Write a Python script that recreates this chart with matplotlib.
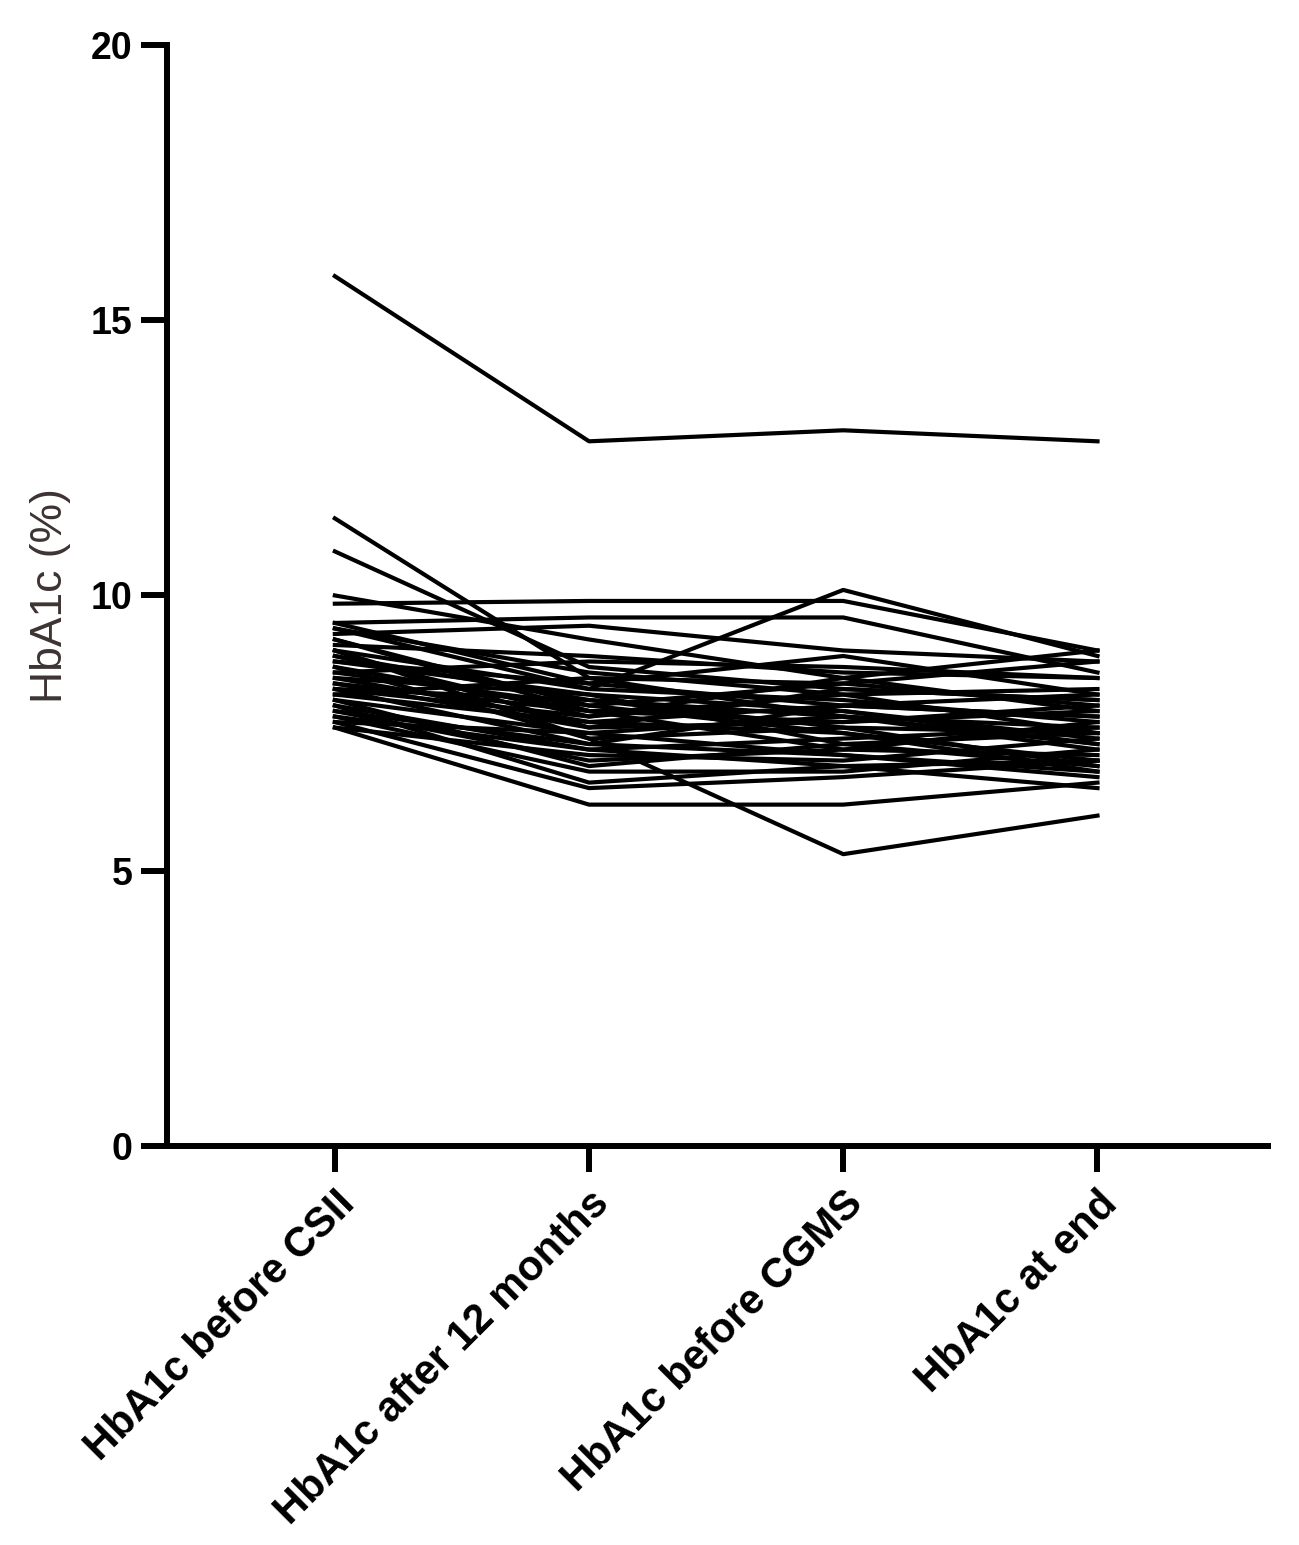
import matplotlib
matplotlib.use("Agg")
import matplotlib.pyplot as plt

plt.rcParams['font.family'] = ['Liberation Sans', 'DejaVu Sans']

# timepoints (x categories)
categories = ["HbA1c before CSII", "HbA1c after 12 months",
              "HbA1c before CGMS", "HbA1c at end"]

# one value per patient at each timepoint
before_csii = [15.8, 11.4, 10.8, 10.0, 9.85, 9.5, 9.4, 9.3, 9.2, 9.1,
               9.0, 9.0, 8.9, 8.8, 8.7, 8.6, 8.5, 8.5, 8.4, 8.3,
               8.3, 8.2, 8.1, 8.0, 8.0, 7.9, 7.8, 7.7, 7.6, 7.6,
               9.4, 9.2, 9.0, 8.8, 8.7, 8.6, 8.4, 8.2, 8.1, 7.9,
               7.7, 9.5, 8.9, 8.3, 7.8]
after_12m = [12.8, 8.5, 8.7, 9.2, 9.9, 9.6, 8.3, 9.45, 8.0, 8.9,
             7.4, 8.3, 8.1, 8.4, 7.9, 8.0, 7.7, 8.2, 7.6, 7.8,
             7.3, 8.5, 7.5, 7.2, 6.6, 7.0, 6.8, 6.5, 6.2, 7.1,
             8.6, 7.9, 7.6, 8.2, 7.4, 8.8, 7.9, 7.7, 6.9, 7.3,
             7.5, 8.4, 7.8, 8.1, 7.2]
before_cgms = [13.0, 7.8, 8.3, 8.5, 9.9, 9.6, 10.1, 9.0, 8.4, 8.6,
               5.3, 8.1, 7.6, 8.9, 7.9, 7.5, 8.0, 7.3, 7.7, 8.2,
               7.1, 8.4, 7.8, 7.4, 6.9, 7.2, 6.8, 6.7, 6.2, 7.0,
               8.2, 7.7, 8.3, 7.9, 7.6, 8.7, 7.2, 7.5, 7.3, 8.0,
               7.1, 8.0, 8.5, 7.8, 6.9]
at_end = [12.8, 7.6, 8.1, 7.9, 9.0, 8.6, 8.9, 8.8, 8.0, 8.5,
          6.0, 7.7, 7.5, 8.2, 7.3, 7.0, 7.8, 6.9, 8.0, 7.5,
          6.8, 8.8, 7.2, 7.6, 6.5, 7.1, 7.2, 7.0, 6.6, 7.4,
          8.3, 7.9, 8.1, 7.4, 6.9, 8.5, 7.7, 6.8, 7.5, 8.2,
          6.7, 7.8, 9.0, 7.3, 7.0]

fig = plt.figure(figsize=(12.99, 15.45), dpi=100)
ax = fig.add_axes([0.1286, 0.2583, 0.976 - 0.1286, 0.9709 - 0.2583])

x = list(range(len(categories)))
for i in range(len(before_csii)):
    ax.plot(x, [before_csii[i], after_12m[i], before_cgms[i], at_end[i]],
            color="black", lw=3.0)

ax.set_xlim(-0.66, 3.67)
ax.set_ylim(0, 20)
ax.set_yticks([0, 5, 10, 15, 20])
ax.set_xticks(x)
ax.set_xticklabels(categories, rotation=45, ha="right", va="top",
                   rotation_mode="anchor", fontsize=30, fontweight="bold")
for lab in ax.get_yticklabels():
    lab.set_fontsize(27)
    lab.set_fontweight("bold")

ax.spines["top"].set_visible(False)
ax.spines["right"].set_visible(False)
for s in ("left", "bottom"):
    ax.spines[s].set_linewidth(4.3)
ax.tick_params(axis="both", width=4.3, length=19, pad=6)
ax.tick_params(axis="x", pad=8)

ax.set_ylabel("HbA1c (%)", fontsize=32, color="#3d3333", labelpad=14)

fig.savefig("out.png", dpi=100)
